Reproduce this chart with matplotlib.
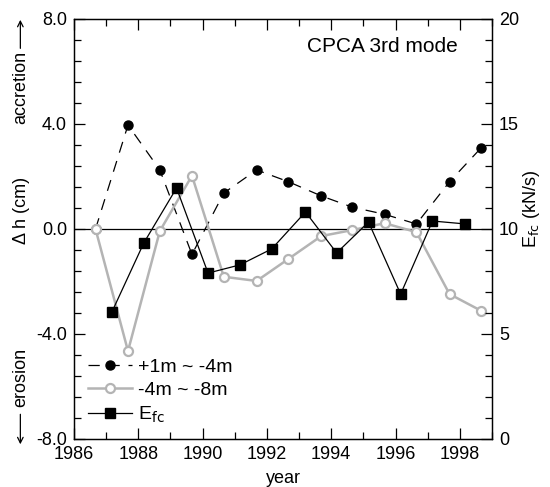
import numpy as np
import matplotlib
matplotlib.use("Agg")
import matplotlib.pyplot as plt
from matplotlib.ticker import MultipleLocator

plt.rcParams["font.family"] = ["Liberation Sans", "DejaVu Sans"]

# survey years (mid-year offsets)
years_dh = [1986.67, 1987.68, 1988.67, 1989.67, 1990.66, 1991.68, 1992.67,
            1993.69, 1994.66, 1995.66, 1996.65, 1997.68, 1998.67]
dh_shallow = [0.0, 3.96, 2.25, -0.97, 1.37, 2.25, 1.80,
              1.26, 0.83, 0.56, 0.19, 1.80, 3.10]
dh_deep = [0.0, -4.65, -0.08, 2.03, -1.82, -1.98, -1.14,
           -0.27, -0.04, 0.22, -0.12, -2.48, -3.12]

years_efc = [1987.18, 1988.17, 1989.19, 1990.17, 1991.16, 1992.15,
             1993.2, 1994.17, 1995.16, 1996.16, 1997.15, 1998.17]
efc = [6.05, 9.33, 11.95, 7.9, 8.29, 9.05,
       10.81, 8.86, 10.33, 6.9, 10.38, 10.24]

FS = 13

fig = plt.figure(figsize=(5.5, 4.87), dpi=100)
ax = fig.add_axes([0.1345, 0.0986, 0.76, 0.8624])
ax2 = ax.twinx()

ax.axhline(0, color="black", lw=0.9, zorder=1)

l1, = ax.plot(years_dh, dh_shallow, color="black", lw=0.9, dashes=(9, 7),
              marker="o", ms=6.5, mfc="black", mec="black", label="+1m ~ -4m")
l2, = ax.plot(years_dh, dh_deep, color="#b4b4b4", lw=1.8,
              marker="o", ms=6.5, mfc="white", mec="#b4b4b4", mew=1.6,
              label="-4m ~ -8m")
l3, = ax2.plot(years_efc, efc, color="black", lw=0.9,
               marker="s", ms=7, mfc="black", mec="black", label="E$_{\\rm fc}$")

ax.set_xlim(1986, 1999)
ax.set_ylim(-8, 8)
ax2.set_ylim(0, 20)

ax.xaxis.set_major_locator(MultipleLocator(2))
ax.xaxis.set_minor_locator(MultipleLocator(1))
ax.yaxis.set_major_locator(MultipleLocator(4))
ax.yaxis.set_minor_locator(MultipleLocator(0.8))
ax2.yaxis.set_major_locator(MultipleLocator(5))
ax2.yaxis.set_minor_locator(MultipleLocator(1))
ax.set_yticks([-8, -4, 0, 4, 8])
ax.set_yticklabels(["-8.0", "-4.0", "0.0", "4.0", "8.0"])

ax.tick_params(axis="both", which="both", direction="in", labelsize=FS,
               top=True, right=False, width=0.9, pad=5)
ax.tick_params(which="major", length=8)
ax.tick_params(which="minor", length=5)
ax2.tick_params(axis="y", which="both", direction="in", labelsize=FS,
                width=0.9, pad=5)
ax2.tick_params(which="major", length=8)
ax2.tick_params(which="minor", length=5)
for a in (ax, ax2):
    for s in a.spines.values():
        s.set_linewidth(0.9)

ax.set_xlabel("year", fontsize=FS, labelpad=5)
fig.text(0.04, 0.567, "Δ h (cm)", rotation=90, fontsize=FS,
         ha="center", va="center")
fig.text(0.967, 0.571, "E$_{\\rm fc}$ (kN/s)", rotation=90, fontsize=FS,
         ha="center", va="center")

# accretion / erosion hints with arrows
fig.text(0.037, 0.82, "accretion", rotation=90, fontsize=FS,
         ha="center", va="center")
fig.text(0.037, 0.225, "erosion", rotation=90, fontsize=FS,
         ha="center", va="center")
fig.patches.append(matplotlib.patches.FancyArrowPatch(
    (0.037, 0.895), (0.037, 0.965), transform=fig.transFigure,
    arrowstyle="->", mutation_scale=10, lw=0.9, color="black"))
fig.patches.append(matplotlib.patches.FancyArrowPatch(
    (0.037, 0.155), (0.037, 0.082), transform=fig.transFigure,
    arrowstyle="->", mutation_scale=10, lw=0.9, color="black"))

ax.text(0.919, 0.958, "CPCA 3rd mode", transform=ax.transAxes, fontsize=15,
        ha="right", va="top")

ax.legend(handles=[l1, l2, l3], loc="lower left", frameon=False, fontsize=14,
          handlelength=2.3, handletextpad=0.3, labelspacing=0.3,
          borderaxespad=0.3, bbox_to_anchor=(0.0, 0.0))

fig.savefig("out.png", dpi=100)
